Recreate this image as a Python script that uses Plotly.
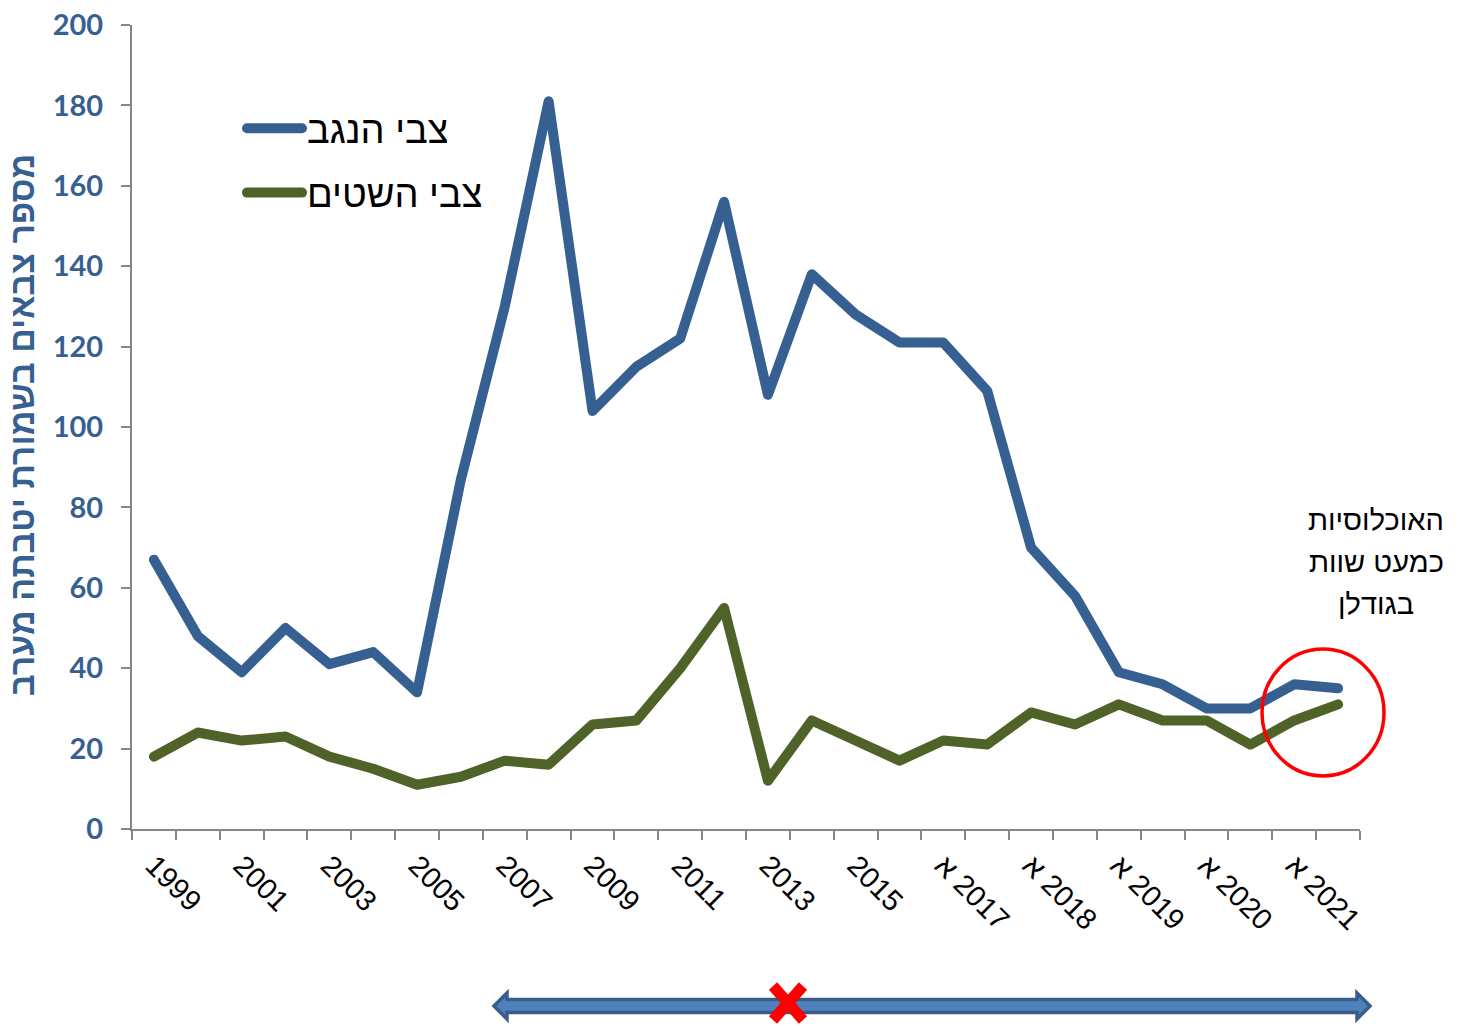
import plotly.graph_objects as go

categories = ["1999", "2000", "2001", "2002", "2003", "2004", "2005", "2006", "2007",
              "2008", "2009", "2010", "2011", "2012", "2013", "2014", "2015", "2016",
              "2017 א", "2017 ב", "2018 א", "2018 ב", "2019 א", "2019 ב",
              "2020 א", "2020 ב", "2021 א", "2021 ב"]
tick_labels = ["1999", "", "2001", "", "2003", "", "2005", "", "2007", "", "2009", "",
               "2011", "", "2013", "", "2015", "", "א\u200e 2017", "", "א\u200e 2018", "",
               "א\u200e 2019", "", "א\u200e 2020", "", "א\u200e 2021", ""]
negev = [67, 48, 39, 50, 41, 44, 34, 87, 130, 181, 104, 115, 122, 156, 108, 138, 128,
         121, 121, 109, 70, 58, 39, 36, 30, 30, 36, 35]
shitim = [18, 24, 22, 23, 18, 15, 11, 13, 17, 16, 26, 27, 40, 55, 12, 27, 22, 17, 22,
          21, 29, 26, 31, 27, 27, 21, 27, 31]
series_names = ["צבי הנגב", "צבי השטים"]
y_title = "מספר צבאים בשמורת יטבתה מערב"
note_lines = ["האוכלוסיות", "כמעט שוות", "בגודלן"]

BLUE = "#376092"
GREEN = "#4F6228"
HEB = "Liberation Sans"

W, H = 1463, 1034
L, R, T, B = 132, 103, 25, 205
PW, PH = W - L - R, H - T - B


def px(x):
    return (x - L) / PW


def py(y):
    return (H - B - y) / PH


fig = go.Figure()
fig.add_trace(go.Scatter(x=categories, y=negev, mode="lines", name=series_names[0],
                         legendgroup="a", line=dict(color=BLUE, width=10)))
fig.add_trace(go.Scatter(x=categories, y=shitim, mode="lines", name=series_names[1],
                         legendgroup="b", line=dict(color=GREEN, width=10)))

axis_grey = "#868686"
fig.update_xaxes(type="category", range=[-0.5, len(categories) - 0.5],
                 tickmode="array", tickvals=categories, ticktext=tick_labels,
                 tickson="boundaries", ticks="outside", ticklen=9, tickcolor=axis_grey,
                 tickwidth=2, showline=True, linecolor=axis_grey, linewidth=2,
                 showgrid=False, zeroline=False, tickangle=45, ticklabelstandoff=6,
                 automargin=False,
                 tickfont=dict(family=HEB, size=29, color="black"))
fig.update_yaxes(range=[0, 200], dtick=20, ticks="outside", ticklen=9,
                 tickcolor=axis_grey, tickwidth=2, showline=True, linecolor=axis_grey,
                 linewidth=2, showgrid=False, zeroline=False, ticklabelstandoff=12,
                 automargin=False,
                 tickfont=dict(family="Lato", size=29, color=BLUE, weight="bold"))

annotations = [dict(text=y_title, x=px(22), y=py(425), xref="paper", yref="paper",
                    showarrow=False, textangle=-90, xanchor="center", yanchor="middle",
                    font=dict(family=HEB, size=34, color=BLUE, weight="bold"))]
for i, t in enumerate(note_lines):
    annotations.append(dict(text=t, x=px(1376), y=py(520 + 42 * i), xref="paper",
                            yref="paper", showarrow=False, xanchor="center",
                            yanchor="middle",
                            font=dict(family=HEB, size=29, color="black")))

shapes = [
    dict(type="circle", xref="paper", yref="paper", x0=px(1262), x1=px(1384),
         y0=py(776), y1=py(649), line=dict(color="#FF0000", width=3.5)),
]
arrow_pts = [(494, 1006), (507, 993), (507, 999.5), (1357, 999.5), (1357, 993),
             (1370, 1006), (1357, 1019), (1357, 1012.5), (507, 1012.5), (507, 1019)]
path = "M" + " L".join(f"{px(a):.5f},{py(b):.5f}" for a, b in arrow_pts) + " Z"
shapes.append(dict(type="path", xref="paper", yref="paper", path=path,
                   fillcolor="#4F81BD", line=dict(color="#385D8A", width=3.5)))
for (x0, y0, x1, y1) in [(773, 986, 803, 1020), (773, 1020, 803, 986)]:
    shapes.append(dict(type="line", xref="paper", yref="paper", x0=px(x0), y0=py(y0),
                       x1=px(x1), y1=py(y1), line=dict(color="#FF0000", width=11)))

fig.update_layout(
    width=W, height=H, margin=dict(l=L, r=R, t=T, b=B, pad=0, autoexpand=False),
    plot_bgcolor="white", paper_bgcolor="white",
    showlegend=True,
    legend=dict(x=px(242), y=py(97), xanchor="left", yanchor="top",
                font=dict(family=HEB, size=38, color="black"),
                bgcolor="rgba(0,0,0,0)", itemwidth=55, tracegroupgap=12,
                traceorder="grouped"),
    annotations=annotations, shapes=shapes,
)

post = """
document.body.style.margin='0';
var s=document.createElement('style');
s.innerHTML='.scatterlayer .js-line{stroke-linejoin:round;stroke-linecap:round}.legend .js-line{stroke-linecap:round}';
document.head.appendChild(s);
"""
fig.write_html("out.html", post_script=post, config={"displayModeBar": False})
